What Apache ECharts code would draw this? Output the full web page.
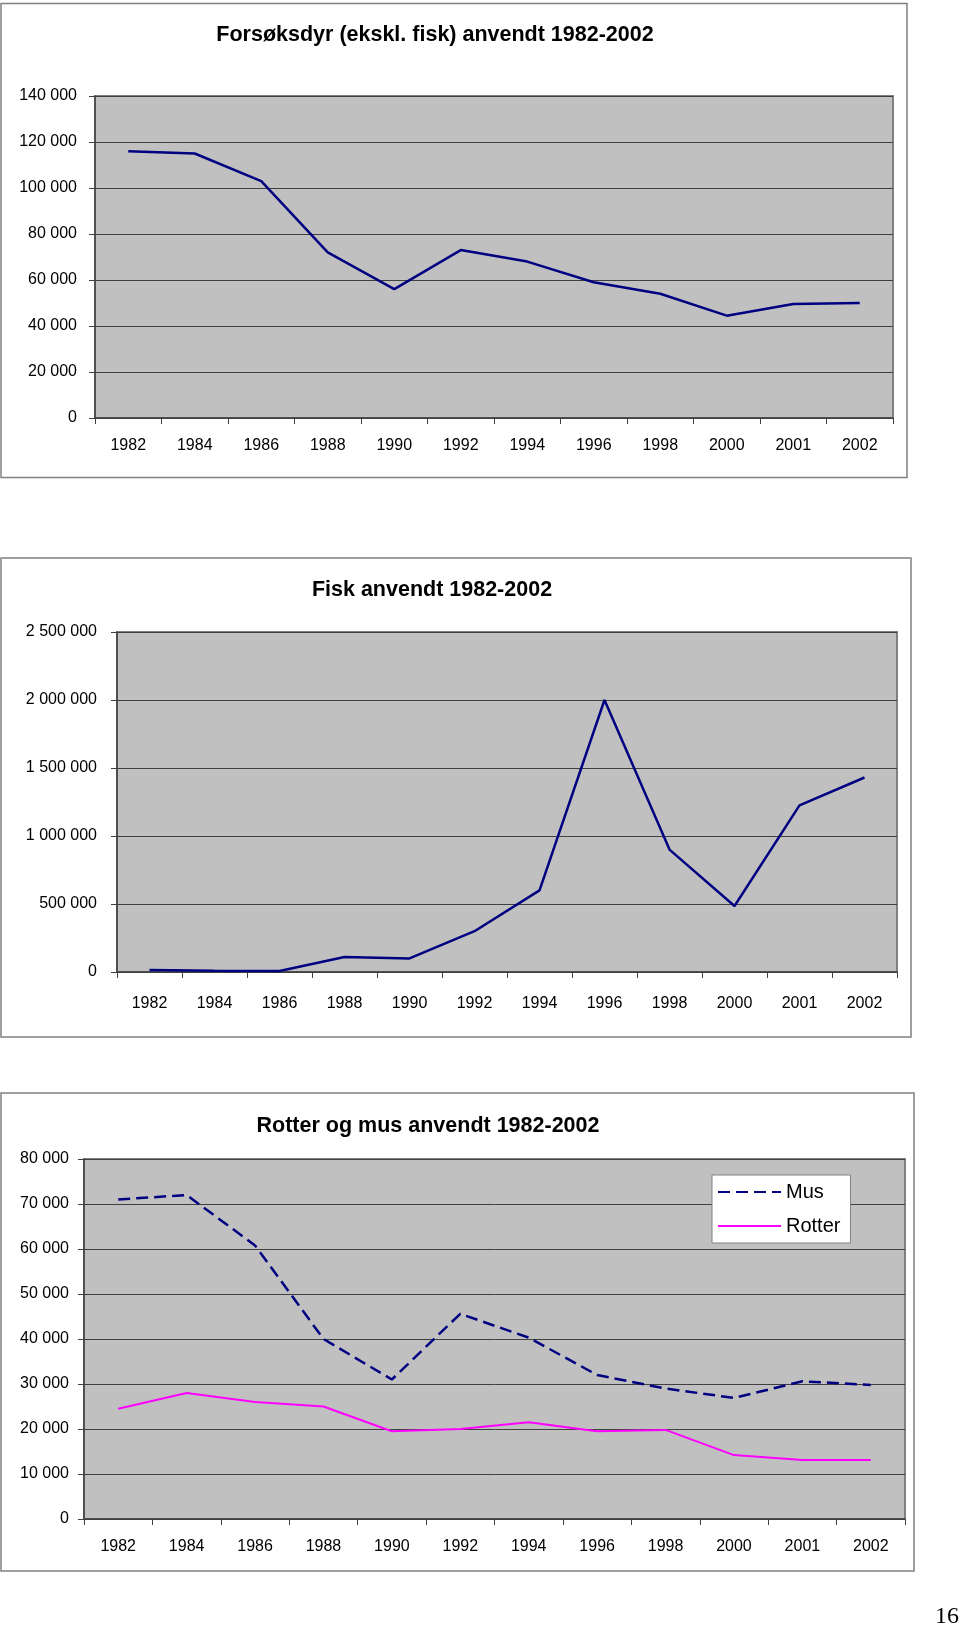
<!DOCTYPE html>
<html>
<head>
<meta charset="utf-8">
<script src="https://cdn.jsdelivr.net/npm/echarts@6/dist/echarts.min.js"></script>
<style>
html,body{margin:0;padding:0;background:#fff;}
#c{width:960px;height:1628px;}
</style>
</head>
<body>
<div id="c"></div>
<script>
// ---- data ----
const years = ['1982','1984','1986','1988','1990','1992','1994','1996','1998','2000','2001','2002'];
const forsoksdyr = [116000,115000,103000,72000,56000,73000,68000,59000,54000,44500,49600,50000];
const fisk = [15000,10000,8000,110000,100000,300000,600000,2000000,900000,485000,1225000,1430000];
const mus = [71000,72000,60800,40000,31000,45600,40300,32000,29000,26900,30600,29800];
const rotter = [24500,28000,26000,25000,19500,20000,21500,19500,19800,14200,13100,13100];
const titles = ['Forsøksdyr (ekskl. fisk) anvendt 1982-2002','Fisk anvendt 1982-2002','Rotter og mus anvendt 1982-2002'];
const seriesNames = ['Mus','Rotter'];
const pageNumber = '16';

const FONT = '"Liberation Sans", Arial, sans-serif';
function fmt(v){ return String(v).replace(/\B(?=(\d{3})+(?!\d))/g,' '); }

const chart = echarts.init(document.getElementById('c'), null, {renderer:'canvas'});

const grids = [
  {left:95, top:96, width:798, height:322},
  {left:117, top:632, width:780, height:340},
  {left:84, top:1159, width:821, height:360}
];
const yCfg = [
  {max:140000, interval:20000, margin:18},
  {max:2500000, interval:500000, margin:20},
  {max:80000, interval:10000, margin:15}
];
const xMargin = [20, 24, 20];

const option = {
  animation:false,
  grid: grids.map(g=>Object.assign({show:true, backgroundColor:'#c0c0c0', borderColor:'#808080', borderWidth:2}, g)),
  xAxis: grids.map((g,i)=>({
    type:'category', gridIndex:i, data:years, boundaryGap:true,
    axisLine:{lineStyle:{color:'#404040', width:1.5}},
    axisTick:{show:true, length:6, lineStyle:{color:'#404040'}},
    axisLabel:{color:'#000', fontSize:16, fontFamily:FONT, margin:xMargin[i]},
    splitLine:{show:false}
  })),
  yAxis: yCfg.map((c,i)=>({
    type:'value', gridIndex:i, min:0, max:c.max, interval:c.interval,
    axisLine:{show:true, lineStyle:{color:'#404040', width:1.5}},
    axisTick:{show:true, length:6, lineStyle:{color:'#404040'}},
    axisLabel:{color:'#000', fontSize:16, fontFamily:FONT, margin:c.margin, formatter:fmt},
    splitLine:{show:true, lineStyle:{color:'#404040', width:1}}
  })),
  legend:{
    data:seriesNames, orient:'vertical', left:712, top:1175,
    backgroundColor:'#fff', borderColor:'#808080', borderWidth:1,
    padding:[7,10,7,5], itemWidth:63, itemHeight:20, itemGap:14,
    itemStyle:{opacity:0},
    textStyle:{fontSize:20, fontFamily:FONT, color:'#000'}
  },
  series:[
    {type:'line', xAxisIndex:0, yAxisIndex:0, data:forsoksdyr, symbol:'none', lineStyle:{color:'#000080', width:2.5}, itemStyle:{color:'#000080'}},
    {type:'line', xAxisIndex:1, yAxisIndex:1, data:fisk, symbol:'none', lineStyle:{color:'#000080', width:2.5}, itemStyle:{color:'#000080'}},
    {name:seriesNames[0], type:'line', xAxisIndex:2, yAxisIndex:2, data:mus, symbol:'none', lineStyle:{color:'#000080', width:2.5, type:[12,6]}, itemStyle:{color:'#000080'}},
    {name:seriesNames[1], type:'line', xAxisIndex:2, yAxisIndex:2, data:rotter, symbol:'none', lineStyle:{color:'#ff00ff', width:2}, itemStyle:{color:'#ff00ff'}}
  ],
  graphic:[
    {type:'rect', z:-10, shape:{x:1, y:3.5, width:906, height:474}, style:{fill:'#fff', stroke:'#808080', lineWidth:1.5}},
    {type:'rect', z:-10, shape:{x:1, y:558, width:910, height:479}, style:{fill:'#fff', stroke:'#808080', lineWidth:1.5}},
    {type:'rect', z:-10, shape:{x:1, y:1093, width:913, height:478}, style:{fill:'#fff', stroke:'#808080', lineWidth:1.5}},
    {type:'text', x:435, y:35, style:{text:titles[0], textAlign:'center', textVerticalAlign:'middle', font:'bold 21.5px '+FONT, fill:'#000'}},
    {type:'text', x:432, y:590, style:{text:titles[1], textAlign:'center', textVerticalAlign:'middle', font:'bold 21.5px '+FONT, fill:'#000'}},
    {type:'text', x:428, y:1126, style:{text:titles[2], textAlign:'center', textVerticalAlign:'middle', font:'bold 21.5px '+FONT, fill:'#000'}},
    {type:'text', x:935, y:1617, style:{text:pageNumber, textAlign:'left', textVerticalAlign:'middle', font:'24px "Liberation Serif", "Times New Roman", serif', fill:'#000'}}
  ]
};
chart.setOption(option);
</script>
</body>
</html>
